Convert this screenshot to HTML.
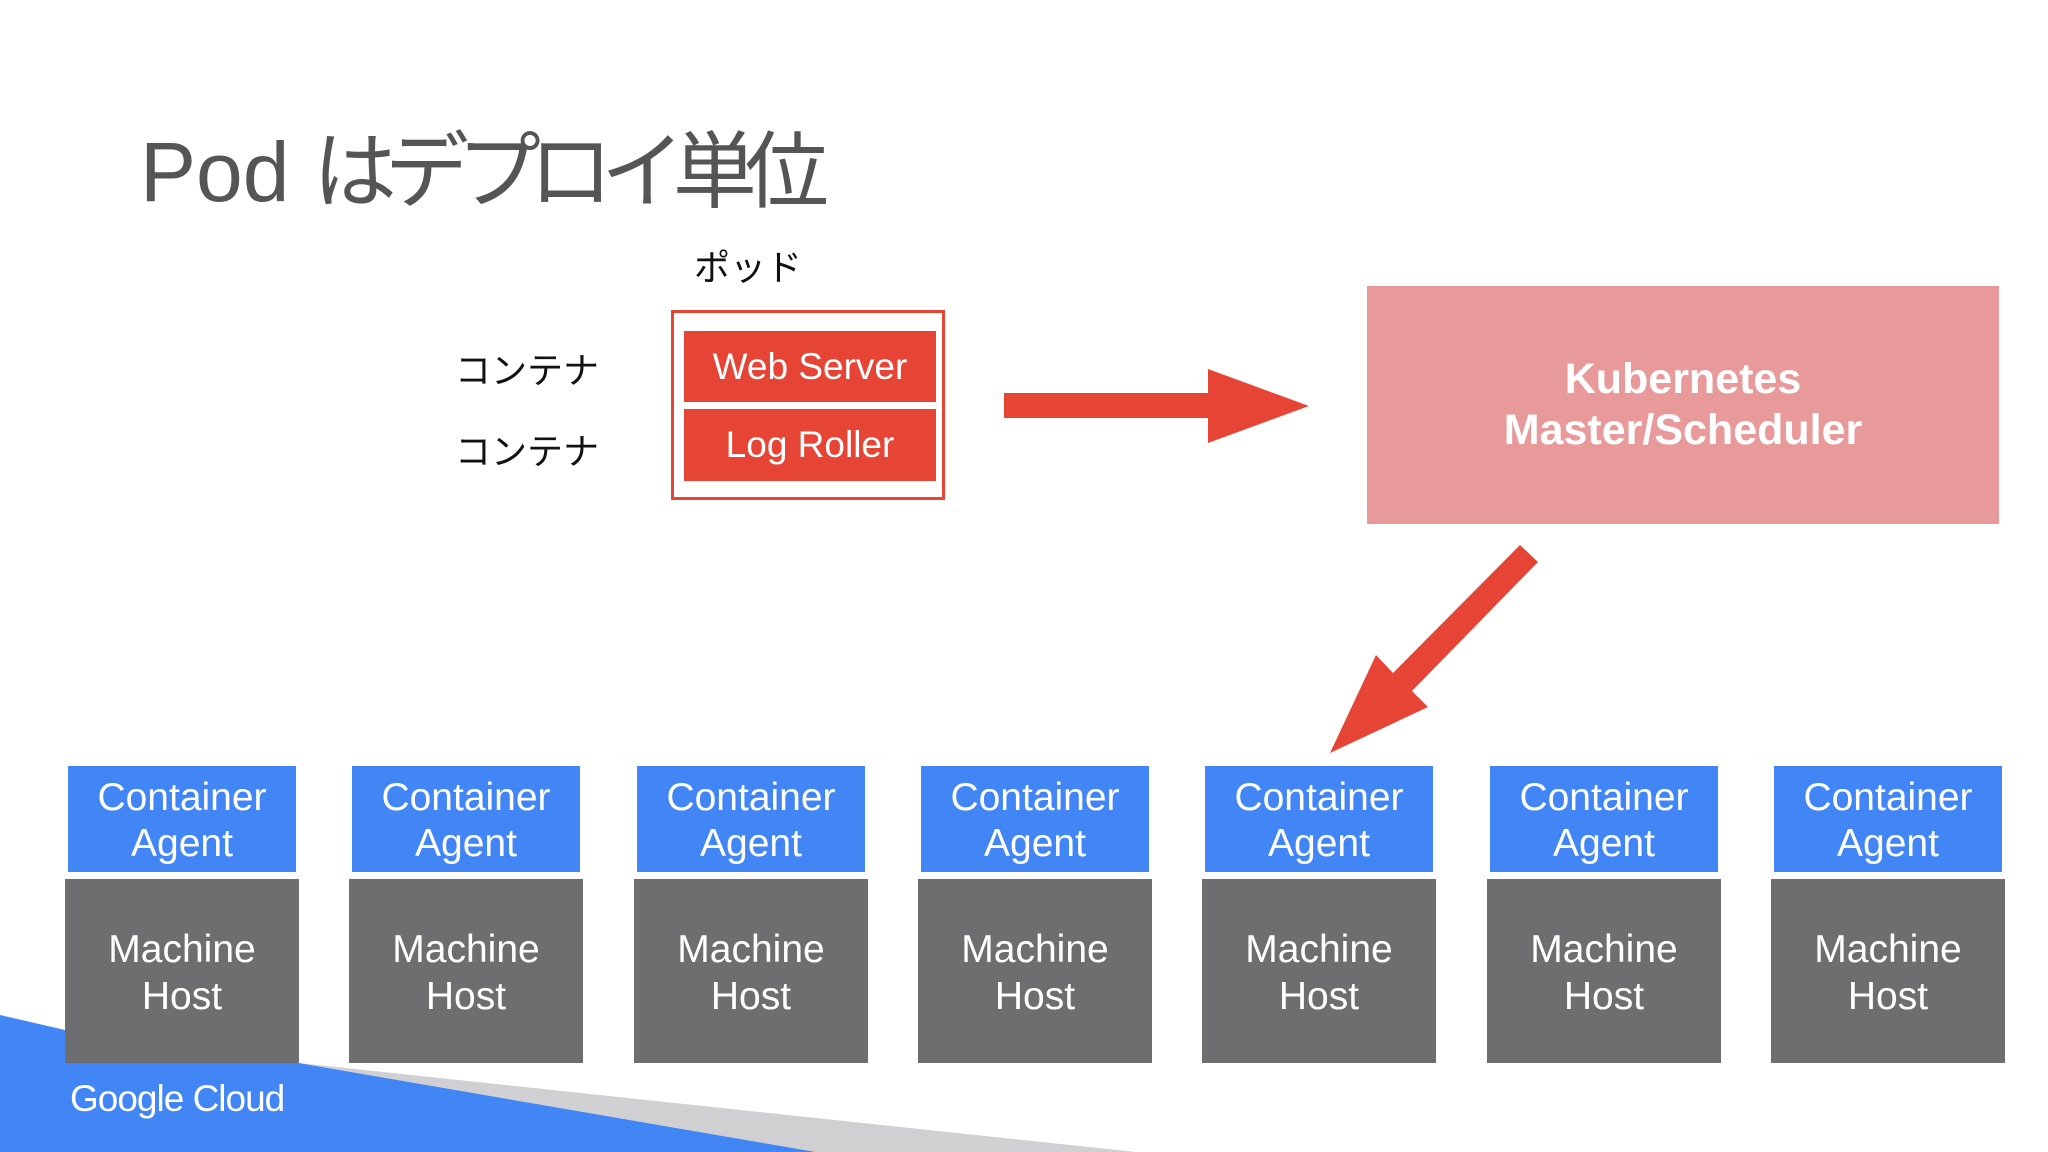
<!DOCTYPE html>
<html><head><meta charset="utf-8"><style>
html,body{margin:0;padding:0;}
body{width:2048px;height:1152px;position:relative;overflow:hidden;background:#fff;font-family:"Liberation Sans","Noto Sans CJK JP",sans-serif;}
.abs{position:absolute;}
.t{position:absolute;white-space:nowrap;}
.ag{position:absolute;background:#4285f4;color:#fff;font-size:39px;line-height:46px;text-align:center;display:flex;flex-direction:column;justify-content:center;padding-top:3px;box-sizing:border-box;}
.mh{position:absolute;background:#6e6d70;color:#fff;font-size:39px;line-height:47px;text-align:center;padding-top:47px;box-sizing:border-box;}
</style></head><body>
<svg class="abs" style="left:0;top:0" width="2048" height="1152">
<polygon points="0,1015 65,1030 299,1063 816,1152 0,1152" fill="#4285f4"/>
<polygon points="299,1063 1136,1152 816,1152" fill="#d0d0d2"/>
<rect x="1004" y="393" width="206" height="25" fill="#e64536"/>
<polygon points="1208,369 1309,406 1208,443" fill="#e64536"/>
<polygon points="1520,545 1538,562 1412,691 1428,707 1330,753 1376,655 1393,673" fill="#e64536"/>
</svg>
<div class="t" style="left:140px;top:122px;font-size:84px;color:#555;line-height:100px;">Pod <span style="letter-spacing:-12px;">はデプロイ単位</span></div>
<div class="t" style="left:694px;top:239px;font-size:36px;color:#111;">ポッド</div>
<div class="t" style="left:455px;top:342px;font-size:36px;color:#111;">コンテナ</div>
<div class="t" style="left:455px;top:423px;font-size:36px;color:#111;">コンテナ</div>
<div class="abs" style="left:671px;top:310px;width:268px;height:184px;border:3px solid #e64536;"></div>
<div class="abs" style="left:684px;top:331px;width:252px;height:71px;background:#e64536;color:#fff;font-size:37px;line-height:71px;text-align:center;">Web Server</div>
<div class="abs" style="left:684px;top:409px;width:252px;height:72px;background:#e64536;color:#fff;font-size:37px;line-height:72px;text-align:center;">Log Roller</div>
<div class="abs" style="left:1367px;top:286px;width:632px;height:238px;background:#e8999a;color:#fff;font-weight:bold;font-size:43px;line-height:51px;text-align:center;display:flex;flex-direction:column;justify-content:center;"><div>Kubernetes</div><div>Master/Scheduler</div></div>
<div class="ag" style="left:68px;top:766px;width:228px;height:106px;"><div>Container</div><div>Agent</div></div>
<div class="mh" style="left:65px;top:879px;width:234px;height:184px;">Machine<br>Host</div>
<div class="ag" style="left:352px;top:766px;width:228px;height:106px;"><div>Container</div><div>Agent</div></div>
<div class="mh" style="left:349px;top:879px;width:234px;height:184px;">Machine<br>Host</div>
<div class="ag" style="left:637px;top:766px;width:228px;height:106px;"><div>Container</div><div>Agent</div></div>
<div class="mh" style="left:634px;top:879px;width:234px;height:184px;">Machine<br>Host</div>
<div class="ag" style="left:921px;top:766px;width:228px;height:106px;"><div>Container</div><div>Agent</div></div>
<div class="mh" style="left:918px;top:879px;width:234px;height:184px;">Machine<br>Host</div>
<div class="ag" style="left:1205px;top:766px;width:228px;height:106px;"><div>Container</div><div>Agent</div></div>
<div class="mh" style="left:1202px;top:879px;width:234px;height:184px;">Machine<br>Host</div>
<div class="ag" style="left:1490px;top:766px;width:228px;height:106px;"><div>Container</div><div>Agent</div></div>
<div class="mh" style="left:1487px;top:879px;width:234px;height:184px;">Machine<br>Host</div>
<div class="ag" style="left:1774px;top:766px;width:228px;height:106px;"><div>Container</div><div>Agent</div></div>
<div class="mh" style="left:1771px;top:879px;width:234px;height:184px;">Machine<br>Host</div>
<div class="t" style="left:70px;top:1078px;font-size:37px;color:#fff;letter-spacing:-1px;">Google Cloud</div>
</body></html>
